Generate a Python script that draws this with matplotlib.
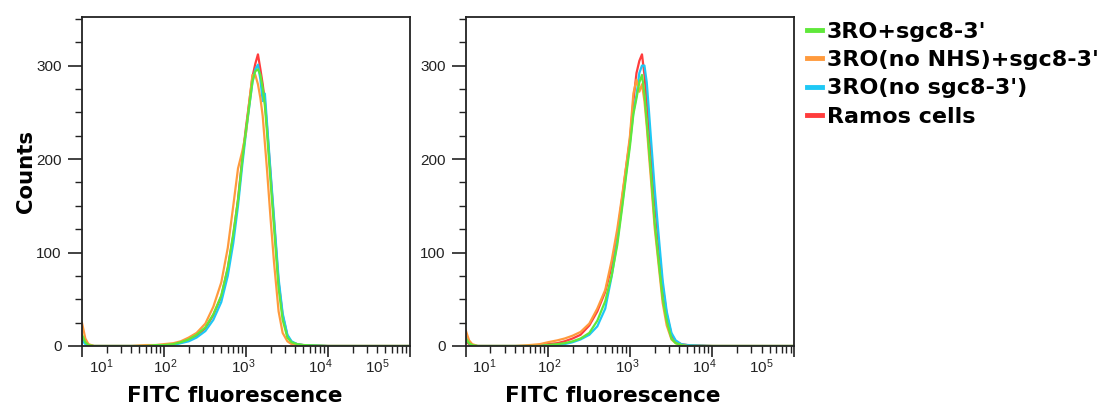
import matplotlib
matplotlib.use('Agg')
import matplotlib.pyplot as plt
from matplotlib.lines import Line2D
from matplotlib.transforms import offset_copy
from matplotlib.ticker import LogLocator, MultipleLocator, NullFormatter, FixedLocator

plt.rcParams['font.family'] = 'Liberation Sans'
plt.rcParams['mathtext.fontset'] = 'custom'
plt.rcParams['mathtext.rm'] = 'Liberation Sans'
plt.rcParams['mathtext.it'] = 'Liberation Sans:italic'
plt.rcParams['mathtext.bf'] = 'Liberation Sans:bold'

# histogram bin positions (FITC fluorescence)
fluor = [10, 11, 12, 14, 20, 40, 60, 80, 100, 130, 160, 200, 250, 320, 400, 500,
         600, 700, 800, 900, 1000, 1100, 1200, 1300, 1400, 1500, 1600, 1700, 1800,
         2000, 2200, 2500, 2800, 3200, 3600, 4200, 5000, 10000, 100000]

# left panel counts
green_a = [12, 4, 1, 0, 0, 0, 0, 1, 1, 2, 4, 7, 12, 20, 34, 54,
           84, 120, 156, 198, 231, 258, 283, 294, 296, 290, 276, 257, 230,
           175, 127, 62, 28, 9, 4, 2, 1, 0, 0]
orange_a = [25, 8, 2, 0, 0, 0, 1, 1, 2, 3, 5, 9, 14, 24, 42, 68,
            105, 150, 190, 208, 228, 262, 290, 290, 280, 265, 246, 217, 190,
            135, 89, 37, 14, 5, 2, 1, 0, 0, 0]
blue_a = [6, 2, 0, 0, 0, 0, 0, 0, 1, 1, 3, 5, 9, 16, 28, 47,
          75, 110, 150, 193, 228, 257, 282, 296, 301, 285, 262, 270, 240,
          185, 137, 72, 35, 12, 5, 2, 1, 0, 0]
red_a = [8, 3, 1, 0, 0, 0, 0, 0, 1, 2, 4, 7, 11, 19, 33, 53,
         83, 118, 157, 200, 234, 262, 288, 302, 312, 296, 280, 262, 236,
         182, 133, 68, 33, 11, 4, 2, 1, 0, 0]

# right panel counts
green_b = [8, 3, 1, 0, 0, 0, 0, 0, 1, 2, 3, 5, 8, 14, 27, 48,
           76, 108, 147, 183, 214, 248, 265, 282, 290, 270, 240, 212, 185,
           132, 96, 51, 27, 8, 3, 1, 0, 0, 0]
orange_b = [17, 6, 2, 0, 0, 0, 1, 2, 4, 6, 8, 11, 15, 24, 40, 60,
            92, 125, 160, 193, 225, 270, 285, 272, 280, 262, 235, 205, 178,
            126, 92, 46, 22, 7, 3, 1, 0, 0, 0]
blue_b = [10, 3, 1, 0, 0, 0, 0, 0, 1, 1, 2, 4, 7, 12, 21, 40,
          75, 112, 150, 186, 218, 250, 268, 292, 300, 300, 282, 252, 222,
          168, 125, 70, 37, 14, 6, 2, 1, 0, 0]
red_b = [5, 2, 0, 0, 0, 0, 0, 1, 2, 3, 5, 8, 12, 22, 37, 58,
         86, 118, 157, 192, 221, 262, 292, 305, 312, 290, 262, 234, 206,
         155, 115, 64, 34, 12, 5, 2, 1, 0, 0]

labels = ["3RO+sgc8-3'", "3RO(no NHS)+sgc8-3'", "3RO(no sgc8-3')", "Ramos cells"]
colors = ['#5fe83a', '#ff9a3d', '#1ec8f5', '#ff3c3c']

decades = [10, 100, 1000, 10000, 100000]
decade_labels = ['$10^{1}$', '$10^{2}$', '$10^{3}$', '$10^{4}$', '$10^{5}$']
label_shift = [19, 1, -3, -8, -33]   # px, horizontal nudge of decade labels

ink = '#222222'

fig = plt.figure(figsize=(11.03, 4.07), dpi=100)
ax_a = fig.add_axes([0.0743, 0.1499, 0.2974, 0.8084])
ax_b = fig.add_axes([0.4222, 0.1499, 0.2979, 0.8084])

panels = [(ax_a, [green_a, orange_a, blue_a, red_a], 0.465),
          (ax_b, [green_b, orange_b, blue_b, red_b], 0.447)]

for ax, series, xlab in panels:
    # red drawn first, green last (on top)
    for vals, col in reversed(list(zip(series, colors))):
        ax.plot(fluor, vals, color=col, lw=1.6, solid_joinstyle='round')
    ax.set_xscale('log')
    ax.set_xlim(10, 1e5)
    ax.set_ylim(0, 352)

    for sp in ax.spines.values():
        sp.set_color(ink)
        sp.set_linewidth(1.3)

    ax.xaxis.set_major_locator(FixedLocator(decades))
    ax.xaxis.set_major_formatter(NullFormatter())
    ax.xaxis.set_minor_locator(LogLocator(base=10, subs=range(2, 10), numticks=20))
    ax.xaxis.set_minor_formatter(NullFormatter())
    ax.yaxis.set_major_locator(MultipleLocator(100))
    ax.yaxis.set_minor_locator(MultipleLocator(25))

    ax.tick_params(axis='x', which='major', length=8, width=1.2, color=ink)
    ax.tick_params(axis='x', which='minor', length=5, width=1.0, color=ink)
    ax.tick_params(axis='y', which='major', length=10, width=1.2, color=ink,
                   pad=4.5, labelsize=11, labelcolor=ink)
    ax.tick_params(axis='y', which='minor', length=5, width=1.0, color=ink)

    for d, lab, dx in zip(decades, decade_labels, label_shift):
        tr = offset_copy(ax.get_xaxis_transform(), fig=fig, x=dx, y=-27, units='dots')
        ax.text(d, 0, lab, transform=tr, ha='center', va='baseline',
                fontsize=11, color=ink)

    ax.text(xlab, -0.169, 'FITC fluorescence', transform=ax.transAxes,
            ha='center', va='baseline', fontsize=15.5, fontweight='bold',
            family='DejaVu Sans', color='black')

fig.text(32 / 1103, 0.5786, 'Counts', rotation=90, rotation_mode='anchor',
         ha='center', va='baseline', fontsize=15.3, fontweight='bold',
         family='DejaVu Sans', color='black')

handles = [Line2D([], [], color=c, lw=3.5) for c in colors]
leg = fig.legend(handles, labels, loc='upper left',
                 bbox_to_anchor=(807 / 1103, 1 - 22 / 407),
                 frameon=False, borderpad=0, borderaxespad=0,
                 handlelength=0.68, handletextpad=0.22, labelspacing=0.37,
                 prop={'family': 'DejaVu Sans', 'weight': 'bold', 'size': 16})

fig.savefig('out.png', dpi=100)
